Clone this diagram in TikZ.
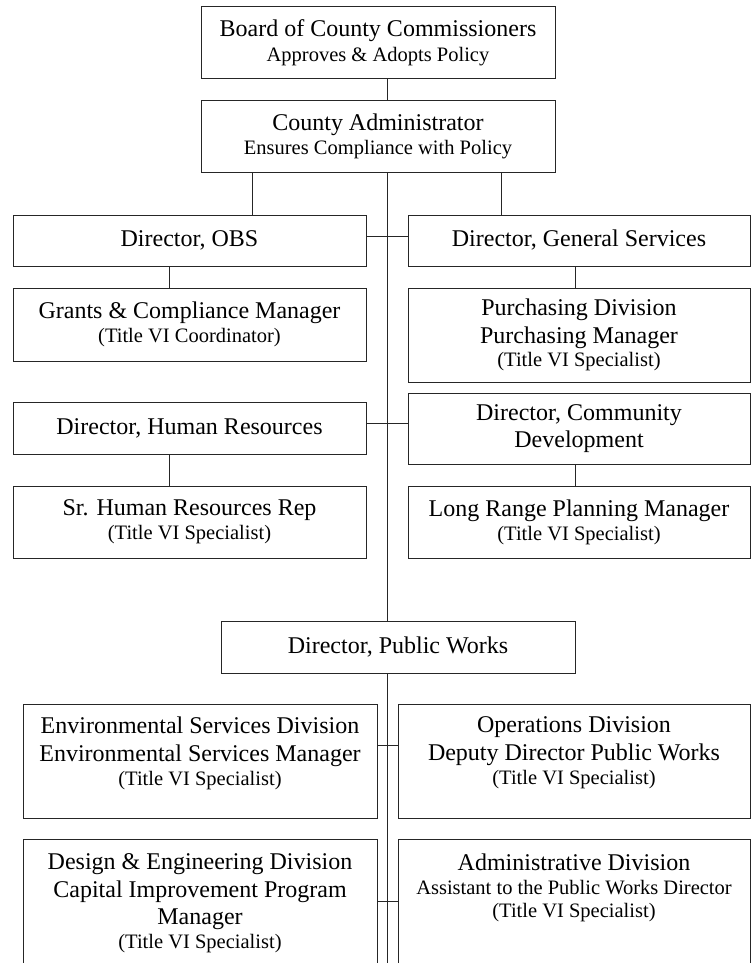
\documentclass[tikz,border=0pt]{standalone}
\usepackage{fontspec}
\setmainfont{Liberation Serif}
\newcommand{\smtxt}[1]{{\fontsize{20.5}{25}\selectfont #1}}
\begin{document}
\begin{tikzpicture}[x=1pt,y=-1pt,
  box/.style={draw=black!85, line width=1pt, fill=white, inner sep=0pt, outer sep=0pt, align=center, font=\fontsize{24}{27.5}\selectfont},
  txt/.style={inner sep=0pt, outer sep=0pt, align=center, anchor=north, font=\fontsize{24}{27.5}\selectfont},
  conn/.style={draw=black!85, line width=1pt}]
\useasboundingbox (0,0) rectangle (751,963);
\clip (0,0) rectangle (751,963);
\fill[white] (0,0) rectangle (751,963);
% helper coordinates
\coordinate (sp) at (387,0);
\coordinate (cl) at (252,0);
\coordinate (cr) at (501,0);
\coordinate (ll) at (169,0);
\coordinate (rr) at (575,0);
\coordinate (h1) at (0,236);
\coordinate (h2) at (0,423);
\coordinate (h3) at (0,745);
\coordinate (h4) at (0,901);
\coordinate (bot) at (387,963);
% boxes
\node[box, minimum width=354, minimum height=72] (board) at (378,43) {Board of County Commissioners\\[-3pt] \smtxt{Approves \& Adopts Policy}};
\node[box, minimum width=354, minimum height=71] (ca) at (378,136.5) {County Administrator\\[-3pt] \smtxt{Ensures Compliance with Policy}};
\node[box, minimum width=353, minimum height=51] (obs) at (189.5,240.5) {Director, OBS};
\node[box, minimum width=342, minimum height=51] (gs) at (579,240.5) {Director, General Services};
\node[box, minimum width=353, minimum height=73] (grants) at (189.5,324.5) {Grants \& Compliance Manager\\[-3.5pt] \smtxt{(Title VI Coordinator)}};
\node[box, minimum width=342, minimum height=94] (purch) at (579,335) {Purchasing Division\\ Purchasing Manager\\[-4pt] \smtxt{(Title VI Specialist)}};
\node[box, minimum width=353, minimum height=52] (hr) at (189.5,428) {Director, Human Resources};
\node[box, minimum width=342, minimum height=71] (cd) at (579,428.5) {Director, Community\\ Development};
\node[box, minimum width=353, minimum height=72] (srhr) at (189.5,522) {Sr. Human Resources Rep\\[-3.5pt] \smtxt{(Title VI Specialist)}};
\node[box, minimum width=342, minimum height=72] (lrpm) at (579,522) {Long Range Planning Manager\\[-3.5pt] \smtxt{(Title VI Specialist)}};
\node[box, minimum width=354, minimum height=52] (pw) at (398,647) {Director, Public Works};
\node[box, minimum width=354, minimum height=114] (env) at (200,761) {};
\node[box, minimum width=352, minimum height=114] (ops) at (574,761) {};
\node[box, minimum width=354, minimum height=151] (design) at (200,914.5) {};
\node[box, minimum width=352, minimum height=151] (admin) at (574,914.5) {};
% top-aligned texts
\node[txt] (envt) at ([yshift=-13pt]env.north) {Environmental Services Division\\ Environmental Services Manager\\[-3.5pt] \smtxt{(Title VI Specialist)}};
\node[txt] (opst) at ([yshift=-13pt]ops.north) {Operations Division\\ Deputy Director Public Works\\[-3.5pt] \smtxt{(Title VI Specialist)}};
\node[txt] (designt) at ([yshift=-15pt]design.north) {Design \& Engineering Division\\ Capital Improvement Program\\ Manager\\[-3.5pt] \smtxt{(Title VI Specialist)}};
\node[txt] (admint) at ([yshift=-15pt]admin.north) {Administrative Division\\[-4pt] \smtxt{Assistant to the Public Works Director}\\[-4.5pt] \smtxt{(Title VI Specialist)}};
% connectors
\draw[conn] (board.south -| sp) -- (ca.north -| sp);
\draw[conn] (ca.south -| cl) -- (obs.north -| cl);
\draw[conn] (ca.south -| cr) -- (gs.north -| cr);
\draw[conn] (ca.south -| sp) -- (pw.north -| sp);
\draw[conn] (pw.south -| sp) -- (bot);
\draw[conn] (obs.east |- h1) -- (gs.west |- h1);
\draw[conn] (hr.east |- h2) -- (cd.west |- h2);
\draw[conn] (env.east |- h3) -- (ops.west |- h3);
\draw[conn] (design.east |- h4) -- (admin.west |- h4);
\draw[conn] (obs.south -| ll) -- (grants.north -| ll);
\draw[conn] (hr.south -| ll) -- (srhr.north -| ll);
\draw[conn] (gs.south -| rr) -- (purch.north -| rr);
\draw[conn] (cd.south -| rr) -- (lrpm.north -| rr);
\end{tikzpicture}
\end{document}
